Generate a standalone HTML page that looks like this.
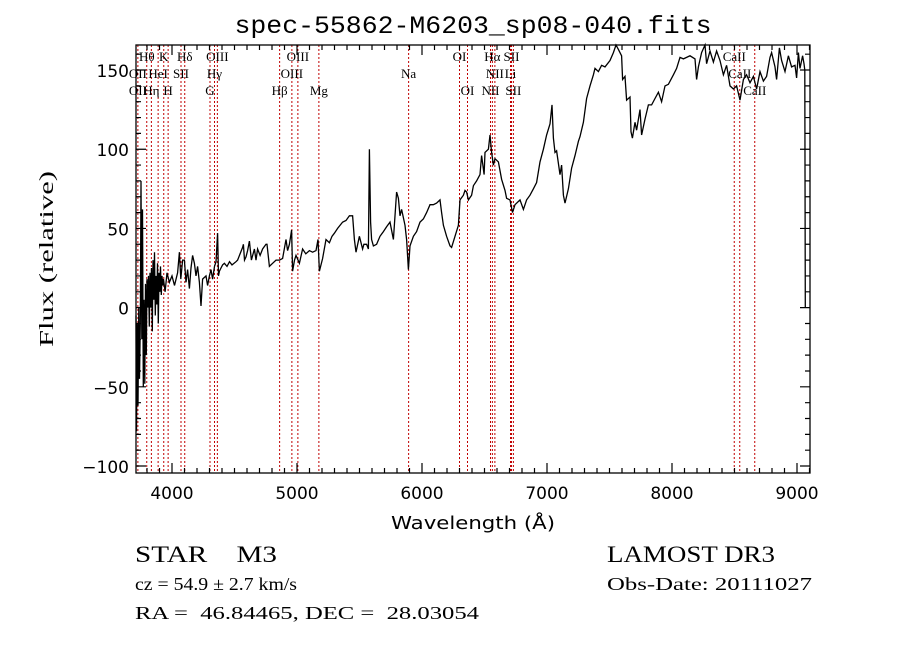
<!DOCTYPE html>
<html><head><meta charset="utf-8">
<style>
html,body{margin:0;padding:0;background:#fff;}
svg{display:block;}
text{white-space:pre;}
</style></head>
<body>
<svg id="chart" width="900" height="649" viewBox="0 0 900 649" xmlns="http://www.w3.org/2000/svg" xml:space="preserve">
<rect x="0" y="0" width="900" height="649" fill="#fff"/>
<text x="473" y="33" text-anchor="middle" font-family="Liberation Mono, monospace" font-size="25" textLength="477" lengthAdjust="spacingAndGlyphs">spec-55862-M6203_sp08-040.fits</text>
<g id="lines"></g>
<g id="spec"></g>
<g id="axes"></g>
<text x="473" y="529" text-anchor="middle" font-family="DejaVu Sans, sans-serif" font-size="18" textLength="164" lengthAdjust="spacingAndGlyphs">Wavelength (Å)</text>
<text transform="translate(53,259) rotate(-90)" text-anchor="middle" font-family="Liberation Serif, serif" font-size="20" textLength="176" lengthAdjust="spacingAndGlyphs">Flux (relative)</text>
<text x="135" y="562" font-family="Liberation Serif, serif" font-size="23" textLength="142" lengthAdjust="spacingAndGlyphs">STAR    M3</text>
<text x="135" y="590" font-family="Liberation Serif, serif" font-size="18" textLength="162" lengthAdjust="spacingAndGlyphs">cz = 54.9 ± 2.7 km/s</text>
<text x="135" y="619" font-family="Liberation Serif, serif" font-size="18" textLength="344" lengthAdjust="spacingAndGlyphs">RA =  46.84465, DEC =  28.03054</text>
<text x="607" y="562" font-family="Liberation Serif, serif" font-size="23" textLength="168" lengthAdjust="spacingAndGlyphs">LAMOST DR3</text>
<text x="607" y="590" font-family="Liberation Serif, serif" font-size="18" textLength="205" lengthAdjust="spacingAndGlyphs">Obs-Date: 20111027</text>
</svg>
<script>
// ---- data: [wavelength (Å), flux] ----
const spectrum = [[3712,-5],[3716,-78],[3722,-10],[3728,-62],[3734,0],[3740,-45],[3746,-10],[3752,80],[3758,-20],[3764,62],[3770,-50],[3776,5],[3782,-48],[3788,15],[3794,-30],[3800,18],[3806,0],[3812,20],[3818,-12],[3824,22],[3830,0],[3836,25],[3842,-15],[3848,30],[3854,5],[3860,35],[3866,-5],[3872,20],[3878,2],[3884,28],[3890,-10],[3896,22],[3902,10],[3908,26],[3914,8],[3920,20],[3926,14],[3932,18],[3945,10],[3960,22],[3979,16],[4000,20],[4020,14],[4045,22],[4059,35],[4070,18],[4085,30],[4099,30],[4112,16],[4125,24],[4139,12],[4152,25],[4165,33],[4179,28],[4192,20],[4205,26],[4219,16],[4232,1],[4245,18],[4272,20],[4285,14],[4299,20],[4312,24],[4325,18],[4340,26],[4352,29],[4365,47],[4372,20],[4379,23],[4392,25],[4405,27],[4419,28],[4440,26],[4460,29],[4480,27],[4512,29],[4525,30],[4545,34],[4565,38],[4571,40],[4580,30],[4592,32],[4605,36],[4619,42],[4635,30],[4659,37],[4672,30],[4685,37],[4705,33],[4725,37],[4752,40],[4760,40],[4779,26],[4805,28],[4832,30],[4860,30],[4885,31],[4912,43],[4925,36],[4939,40],[4957,49],[4965,23],[4980,30],[4992,33],[5019,28],[5045,37],[5070,34],[5099,36],[5125,35],[5152,36],[5168,43],[5179,23],[5205,31],[5232,43],[5259,41],[5280,45],[5299,47],[5325,50],[5365,54],[5392,55],[5419,58],[5445,58],[5459,43],[5472,35],[5499,45],[5525,37],[5535,40],[5557,40],[5571,37],[5579,100],[5589,54],[5597,43],[5611,39],[5637,40],[5664,45],[5691,48],[5717,51],[5744,54],[5771,43],[5784,58],[5797,73],[5811,69],[5824,58],[5837,62],[5864,52],[5877,43],[5891,24],[5904,39],[5931,45],[5957,48],[5984,54],[6011,56],[6037,60],[6064,65],[6090,65],[6117,66],[6144,68],[6157,60],[6171,52],[6197,45],[6224,39],[6237,38],[6264,45],[6291,52],[6304,68],[6331,71],[6344,74],[6357,73],[6371,68],[6397,71],[6411,77],[6437,80],[6464,84],[6477,96],[6497,84],[6504,98],[6531,100],[6544,109],[6557,98],[6571,90],[6584,94],[6611,92],[6637,81],[6664,74],[6677,69],[6704,68],[6724,60],[6744,65],[6784,68],[6811,62],[6837,68],[6864,71],[6891,75],[6917,79],[6944,92],[6971,100],[6997,109],[7024,116],[7040,128],[7051,107],[7064,98],[7077,99],[7104,84],[7117,90],[7131,71],[7144,66],[7171,75],[7197,88],[7224,96],[7251,105],[7264,108],[7291,117],[7317,132],[7344,140],[7371,147],[7384,151],[7411,149],[7437,153],[7464,152],[7504,156],[7531,161],[7552,166],[7571,163],[7597,159],[7605,144],[7624,146],[7637,131],[7664,133],[7672,111],[7683,107],[7704,117],[7717,112],[7744,125],[7757,109],[7784,119],[7811,128],[7837,128],[7864,132],[7891,136],[7917,130],[7944,140],[7971,141],[8011,147],[8037,151],[8064,158],[8091,157],[8117,158],[8144,159],[8184,157],[8197,144],[8211,152],[8237,161],[8264,166],[8277,154],[8304,162],[8331,155],[8357,162],[8384,156],[8411,147],[8437,153],[8464,140],[8491,138],[8517,140],[8544,131],[8571,144],[8597,147],[8624,142],[8651,146],[8677,138],[8704,149],[8731,143],[8757,146],[8784,158],[8797,161],[8824,152],[8837,144],[8859,164],[8877,156],[8904,149],[8931,159],[8957,152],[8984,153],[8997,145],[9011,161],[9024,151],[9045,159],[9056,154],[9062,150],[9066,0]];
const lineWaves = [3727,3798,3835,3889,3934,3969,4072,4102,4304,4340,4363,4861,4959,5007,5175,5893,6300,6364,6548,6563,6583,6708,6716,6731,8498,8542,8662];
const labelNames = ["Hθ","K","Hδ","OIII","OIII","OI","Hα","SII","CaII","OII","HeI","SII","Hγ","OIII","Na","NII","Li","CaII","OII","Hη","H","G","Hβ","Mg","OI","NII","SII","CaII"];
const labelWaves = [3798,3934,4102,4363,5007,6300,6563,6716,8498,3727,3889,4072,4340,4959,5893,6583,6708,8542,3727,3835,3969,4304,4861,5175,6364,6548,6731,8662];
const labelRows  = [0,0,0,0,0,0,0,0,0,1,1,1,1,1,1,1,1,1,2,2,2,2,2,2,2,2,2,2];
const xTicks = [4000,5000,6000,7000,8000,9000];
const yTicks = [-100,-50,0,50,100,150];

// ---- axes ----
const L=136,R=810,T=45,B=473;
const xMin=3712,xMax=9104,yMin=-104.4,yMax=165.8;
const X=w=>L+(w-xMin)/(xMax-xMin)*(R-L);
const Y=f=>B-(f-yMin)/(yMax-yMin)*(B-T);
const NS='http://www.w3.org/2000/svg';
function mk(tag,parent){const e=document.createElementNS(NS,tag);parent.appendChild(e);return e;}

const lg=document.getElementById('lines');
lineWaves.forEach(w=>{
  const l=mk('line',lg);
  
  
  l.setAttribute('x1',X(w));l.setAttribute('x2',X(w));
  l.setAttribute('y1',T);l.setAttribute('y2',B);
  l.setAttribute('stroke','#c00000');l.setAttribute('stroke-width','1');
  l.setAttribute('stroke-dasharray','2,2');
});
labelNames.forEach((n,i)=>{
  const t=mk('text',lg);
  
  
  t.setAttribute('x',X(labelWaves[i]));
  t.setAttribute('y',61+labelRows[i]*17);
  t.setAttribute('text-anchor','middle');
  t.setAttribute('font-family','Liberation Serif, serif');
  t.setAttribute('font-size','13');
  t.textContent=n;
});

const sg=document.getElementById('spec');
const p=mk('polyline',sg);


p.setAttribute('points',spectrum.map(s=>X(s[0]).toFixed(1)+','+Math.max(T,Math.min(B,Y(s[1]))).toFixed(1)).join(' '));
p.setAttribute('fill','none');p.setAttribute('stroke','#000');p.setAttribute('stroke-width','1.3');

const ag=document.getElementById('axes');
const box=mk('rect',ag);


box.setAttribute('x',L);box.setAttribute('y',T);box.setAttribute('width',R-L);box.setAttribute('height',B-T);
box.setAttribute('fill','none');box.setAttribute('stroke','#000');box.setAttribute('stroke-width','1.3');
let d='';
for(let w=3800;w<=9100;w+=100){const x=X(w);const len=(w%1000===0)?10:5;d+=`M${x},${B}v${-len}M${x},${T}v${len}`;}
for(let f=-100;f<=160;f+=10){const y=Y(f);const len=(f%50===0)?10:5;d+=`M${L},${y}h${len}M${R},${y}h${-len}`;}
const tk=mk('path',ag);


tk.setAttribute('d',d);tk.setAttribute('stroke','#000');tk.setAttribute('stroke-width','1.2');tk.setAttribute('fill','none');
xTicks.forEach(v=>{
  const t=mk('text',ag);
  
  
  t.setAttribute('x',X(v));t.setAttribute('y',B+26);
  t.setAttribute('text-anchor','middle');
  t.setAttribute('font-family','DejaVu Sans, sans-serif');t.setAttribute('font-size','17');
  t.textContent=v;
});
yTicks.forEach(v=>{
  const t=mk('text',ag);
  
  
  t.setAttribute('x',L-7);t.setAttribute('y',Y(v)+7);
  t.setAttribute('text-anchor','end');
  t.setAttribute('font-family','DejaVu Sans, sans-serif');t.setAttribute('font-size','17');
  t.textContent=v<0?'\u2212'+(-v):v;
});
</script>
</body></html>
